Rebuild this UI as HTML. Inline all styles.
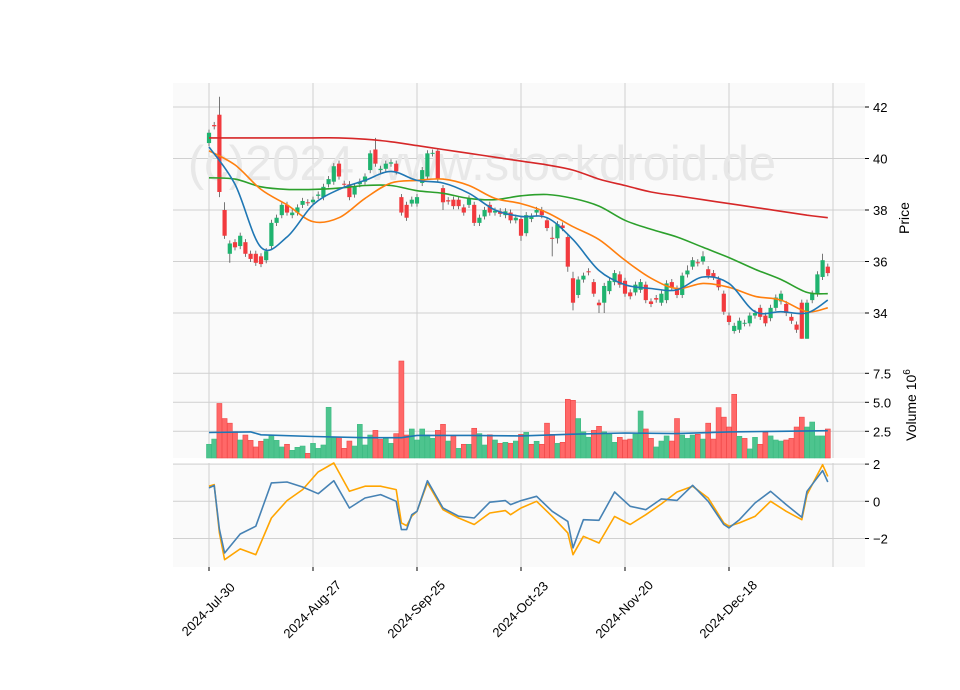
<!DOCTYPE html>
<html><head><meta charset="utf-8"><style>
body{margin:0;background:#fff;}
svg{display:block;font-family:"Liberation Sans","DejaVu Sans",sans-serif;}
</style></head><body>
<svg id="chart" width="960" height="690" viewBox="0 0 960 690" xmlns="http://www.w3.org/2000/svg">
<rect x="0" y="0" width="960" height="690" fill="#fff"/>
<rect x="173" y="83" width="692" height="269" fill="#fafafa"/>
<rect x="173" y="352" width="692" height="106" fill="#fafafa"/>
<rect x="173" y="463" width="692" height="104" fill="#fafafa"/>
<g id="grid"></g>
<text x="482" y="180" text-anchor="middle" font-size="49" fill="#e8e8e8">(c)2024 www.stockdroid.de</text>
<g id="marks"></g>
<g id="axes"></g>
<text transform="translate(909,218) rotate(-90)" text-anchor="middle" font-size="14" fill="#000">Price</text>
<text transform="translate(916,405) rotate(-90)" text-anchor="middle" font-size="14" fill="#000">Volume  10<tspan font-size="10" dy="-6">6</tspan></text>
</svg>
<script>
const dateLabels=["2024-Jul-30","2024-Aug-27","2024-Sep-25","2024-Oct-23","2024-Nov-20","2024-Dec-18"];
const dateIdx=[0,20,40,60,80,100];
const opens=[40.6,41.3,41.7,38.0,36.3,36.75,36.6,36.75,36.3,36.3,36.2,36.05,36.6,37.5,37.8,38.2,37.8,37.9,38.2,38.3,38.3,38.55,38.5,39.0,39.1,39.8,39.02,39.0,38.6,39.0,39.1,39.55,40.35,39.55,39.6,39.8,39.8,38.5,38.2,38.25,38.25,39.05,39.3,40.2,40.3,38.85,38.38,38.4,38.4,38.1,38.2,38.2,37.5,37.75,38.2,37.9,37.95,37.8,37.9,37.6,37.65,37.1,37.65,37.9,38.0,37.6,36.92,36.9,37.4,36.95,35.35,34.7,35.3,35.62,35.2,34.4,34.4,34.85,35.2,35.5,35.25,34.8,34.8,34.9,35.1,34.45,34.58,34.4,34.5,35.2,34.95,34.7,35.5,35.8,35.97,36.0,35.7,35.55,35.3,34.75,33.9,33.3,33.35,33.6,33.6,33.9,34.2,33.9,33.8,34.2,34.45,34.35,33.85,33.55,34.4,33.0,34.5,34.75,35.4,35.8];
const closes=[41.0,41.25,38.7,37.0,36.7,36.55,37.0,36.3,36.1,35.95,35.9,36.4,37.5,37.7,38.2,37.9,37.9,38.1,38.35,38.28,38.4,38.6,38.9,39.2,39.7,39.3,39.0,38.5,38.9,39.1,39.3,40.2,39.8,39.6,39.8,39.85,39.5,37.9,37.7,38.4,38.5,39.55,40.2,40.22,39.2,38.3,38.33,38.15,38.15,37.9,38.45,37.5,37.7,38.0,37.9,37.97,37.85,37.95,37.6,37.7,37.0,37.8,37.75,38.0,37.8,37.3,36.9,37.45,37.3,35.8,34.4,35.3,35.45,35.58,34.75,34.3,35.05,35.25,35.55,35.1,34.75,34.65,35.1,35.2,34.5,34.35,34.52,34.75,35.15,35.0,34.7,35.45,35.65,36.05,35.93,36.2,35.45,35.4,35.0,34.05,33.65,33.5,33.7,33.62,33.9,34.0,33.85,33.6,34.2,34.6,34.75,34.0,33.7,33.35,33.0,34.4,34.75,35.5,36.05,35.55];
const wickHigh={2:42.4,3:38.3,32:40.8,43:40.35,44:40.35,66:37.35,70:35.6,118:36.3,92:35.85,95:36.4};
const wickLow={2:38.5,4:35.95,45:38.0,60:36.8,66:36.2,67:36.7,69:35.6,70:34.1,75:34.0,76:34.0,101:33.2,114:33.0,115:33.0};
const volumes=[1.38,1.83,4.9,3.6,3.2,2.47,1.75,2.18,1.72,1.15,1.64,1.83,2.12,1.72,1.15,1.38,0.86,1.12,1.23,0.6,1.46,1.03,1.32,4.57,1.95,1.98,1.03,1.66,1.23,3.1,1.32,2.18,2.58,1.8,1.98,1.46,2.3,8.56,2.18,2.7,1.75,2.7,2.18,1.89,2.58,3.1,1.66,2.1,1.03,1.38,1.38,2.76,2.3,1.32,2.2,1.75,1.46,1.55,1.46,1.66,2.24,2.41,1.38,1.64,1.38,3.2,2.24,1.46,1.55,5.26,5.17,3.6,2.45,1.99,2.58,2.93,2.45,2.24,1.55,1.98,1.75,1.83,2.27,4.25,2.7,1.89,1.15,1.66,2.1,1.66,3.6,2.18,1.89,2.18,2.24,1.83,3.2,1.83,4.54,3.72,2.87,5.69,2.07,1.89,0.98,1.98,1.38,2.41,2.1,1.75,1.66,1.75,1.89,2.87,3.72,2.87,3.3,2.1,2.1,2.7];
const volMaIdx=[0,8,10,20,30,37,40,50,60,70,80,90,100,110,119];
const volMaVals=[2.4,2.45,2.2,2.05,1.95,1.95,2.15,2.15,2.1,2.25,2.35,2.3,2.45,2.5,2.55];
const maIdx=[0,5,10,15,20,25,30,35,40,45,50,55,60,65,70,75,80,85,90,95,100,105,110,115,119];
const maFast=[40.45,39.0,36.55,36.95,38.2,38.8,39.15,39.5,39.15,39.05,38.65,38.0,37.75,37.7,36.85,35.65,35.1,34.95,34.9,35.4,35.15,34.05,34.05,34.0,34.5];
const maMid=[40.3,39.75,38.8,38.2,37.55,37.7,38.45,39.05,39.15,39.2,38.95,38.45,38.25,37.9,37.35,36.85,36.05,35.35,34.95,35.15,35.0,34.65,34.5,34.05,34.2];
const maSlow=[39.25,39.2,38.9,38.8,38.8,38.85,38.95,38.95,38.75,38.65,38.45,38.4,38.55,38.6,38.45,38.15,37.6,37.25,36.95,36.55,36.15,35.7,35.3,34.8,34.75];
const maLong=[40.8,40.8,40.8,40.8,40.8,40.8,40.75,40.65,40.5,40.35,40.2,40.05,39.9,39.75,39.55,39.2,38.95,38.7,38.55,38.4,38.25,38.1,37.95,37.8,37.7];
const oscIdx=[0,1,2,3,6,9,12,15,18,21,24,27,30,33,36,37,38,39,40,42,45,48,51,54,57,58,60,63,66,69,70,72,75,78,81,84,87,90,93,96,99,100,102,105,108,111,114,115,118,119];
const oscA=[0.72,0.85,-1.5,-2.78,-1.76,-1.34,0.99,1.04,0.77,0.41,1.11,-0.36,0.18,0.36,0,-1.52,-1.52,-0.72,-0.54,1.11,-0.36,-0.8,-0.9,-0.05,0.04,-0.18,0.04,0.27,-0.54,-1.08,-2.5,-0.99,-1.02,0.5,-0.27,-0.45,0.13,0.05,0.86,0,-1.25,-1.43,-0.99,-0.09,0.54,-0.18,-0.86,0.54,1.65,1.04];
const oscB=[0.81,0.9,-1.7,-3.14,-2.56,-2.87,-0.9,0.04,0.63,1.58,2.06,0.54,0.81,0.81,0.63,-1.16,-1.31,-0.8,-0.54,0.99,-0.45,-0.9,-1.25,-0.63,-0.5,-0.72,-0.36,0,-0.81,-1.7,-2.87,-1.88,-2.24,-0.81,-1.25,-0.72,-0.14,0.5,0.81,0.18,-1.16,-1.34,-1.16,-0.81,0,-0.54,-0.99,0.36,1.97,1.34];
const priceTicks=[42,40,38,36,34];
const volTicks=[2.5,5.0,7.5];
const oscTicks=[2,0,-2];

const NS="http://www.w3.org/2000/svg";
const X=i=>209+5.2*i;
const PY=p=>107+(42-p)*25.75;
const VY=v=>460.3-v*11.6;
const OY=m=>501.3-m*18.6;
function mk(tag,attrs,parent){const e=document.createElementNS(NS,tag);for(const k in attrs)e.setAttribute(k,attrs[k]);parent.appendChild(e);return e;}
const grid=document.getElementById('grid'),marks=document.getElementById('marks'),axes=document.getElementById('axes');
const panels=[[83,352],[352,458],[463,567]];
dateIdx.concat([120]).forEach(i=>{panels.forEach(p=>{
  const l=mk('line',{x1:X(i),x2:X(i),y1:p[0],y2:p[1],stroke:'#d0d0d0','stroke-width':1},grid);
  
  
});});
function hgrid(vals,fy,fmt){vals.forEach(v=>{
  const l=mk('line',{x1:173,x2:865,y1:fy(v),y2:fy(v),stroke:'#d0d0d0','stroke-width':1},grid);
  
  
  const t=mk('line',{x1:865,x2:869,y1:fy(v),y2:fy(v),stroke:'#000','stroke-width':1},axes);
  
  
  const tx=mk('text',{x:873,y:fy(v)+5,'font-size':13,fill:'#000'},axes);
  tx.textContent=fmt(v);
  
  
});}
hgrid(priceTicks,PY,v=>String(v));
hgrid(volTicks,VY,v=>v.toFixed(1));
hgrid(oscTicks,OY,v=>v<0?'\u2212'+Math.abs(v):String(v));
dateIdx.forEach((i,k)=>{
  const t=mk('line',{x1:X(i),x2:X(i),y1:567,y2:571,stroke:'#000'},axes);
  
  
  const tx=mk('text',{transform:`translate(${X(i)},${610}) rotate(-45)`,'text-anchor':'middle','dominant-baseline':'middle','font-size':13,fill:'#000'},axes);
  tx.textContent=dateLabels[k];
  
  
});
const GREEN='#1fb36f',RED='#f23a3e';
closes.forEach((c,i)=>{
  const o=opens[i],up=c>=o;
  const hi=(wickHigh[i]!==undefined)?wickHigh[i]:Math.max(o,c)+0.12;
  const lo=(wickLow[i]!==undefined)?wickLow[i]:Math.min(o,c)-0.12;
  const w=mk('line',{x1:X(i),x2:X(i),y1:PY(hi),y2:PY(lo),stroke:'#555','stroke-width':0.8},marks);
  
  
  const top=PY(Math.max(o,c)),h=Math.max(1,Math.abs(PY(o)-PY(c)));
  const b=mk('rect',{x:X(i)-2.1,y:top,width:4.2,height:h,fill:up?GREEN:RED},marks);
  
  
});
function smooth(idx,vals,fy,color,w,name){
  const P=idx.map((i,k)=>[X(i),fy(vals[k])]);
  let d='M'+P[0][0].toFixed(1)+','+P[0][1].toFixed(1);
  for(let k=0;k<P.length-1;k++){
    const p0=P[Math.max(0,k-1)],p1=P[k],p2=P[k+1],p3=P[Math.min(P.length-1,k+2)];
    const c1=[p1[0]+(p2[0]-p0[0])/6,p1[1]+(p2[1]-p0[1])/6];
    const c2=[p2[0]-(p3[0]-p1[0])/6,p2[1]-(p3[1]-p1[1])/6];
    d+=` C${c1[0].toFixed(1)},${c1[1].toFixed(1)} ${c2[0].toFixed(1)},${c2[1].toFixed(1)} ${p2[0].toFixed(1)},${p2[1].toFixed(1)}`;
  }
  const p=mk('path',{d:d,fill:'none',stroke:color,'stroke-width':w},marks);
  
  
}
function poly(idx,vals,fy,color,w,name){
  const pts=idx.map((i,k)=>X(i).toFixed(1)+','+fy(vals[k]).toFixed(1)).join(' ');
  const p=mk('polyline',{points:pts,fill:'none',stroke:color,'stroke-width':w,'stroke-linejoin':'round'},marks);
  
  
}
smooth(maIdx,maLong,PY,'#d62728',1.6,'ma-long-line');
smooth(maIdx,maSlow,PY,'#2ca02c',1.6,'ma-slow-line');
smooth(maIdx,maMid,PY,'#ff7f0e',1.6,'ma-mid-line');
smooth(maIdx,maFast,PY,'#1f77b4',1.6,'ma-fast-line');
volumes.forEach((v,i)=>{
  const up=i===0?true:closes[i]>=closes[i-1];
  const y=Math.max(352,VY(v));
  const r=mk('rect',{x:X(i)-2.5,y:y,width:5,height:458-y,fill:up?'#4dc48e':'#ff6868',stroke:up?'#3dbb82':'#f04848','stroke-width':0.6},marks);
  
  
});
poly(volMaIdx,volMaVals,VY,'#1f77b4',1.6,'volume-ma-line');
poly(oscIdx,oscB,OY,'#ffa500',1.6,'oscillator-signal-line');
poly(oscIdx,oscA,OY,'#4682b4',1.6,'oscillator-line');
</script>
</body></html>
